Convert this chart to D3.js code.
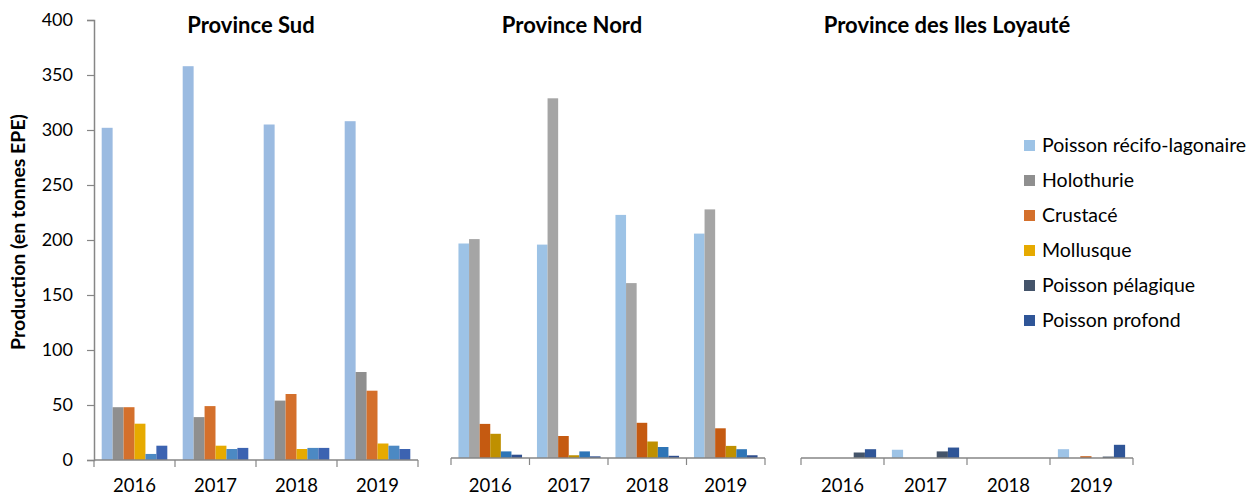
<!DOCTYPE html>
<html>
<head>
<meta charset="utf-8">
<script src="https://cdnjs.cloudflare.com/ajax/libs/d3/7.8.5/d3.min.js"></script>
<style>
  body { margin: 0; background: #fff; }
  svg { display: block; font-family: Lato, "Open Sans", sans-serif; }
</style>
</head>
<body>
<div id="chart"></div>
<script>
// données
var years = ["2016", "2017", "2018", "2019"];
var series = ["Poisson récifo-lagonaire", "Holothurie", "Crustacé", "Mollusque", "Poisson pélagique", "Poisson profond"];
var yTicks = [0, 50, 100, 150, 200, 250, 300, 350, 400];

// valeurs par année, dans l'ordre des séries
var sudValues = [
    [302, 48, 48, 33, 5.5, 13],
    [358, 39, 49, 13, 10, 11],
    [305, 54, 60, 10, 11, 11],
    [308, 80, 63, 15, 13, 10]
];
var nordValues = [
    [195, 199, 31, 22, 6, 3],
    [194, 327, 20, 2.5, 6, 1.5],
    [221, 159, 32, 15, 10, 2],
    [204, 226, 27, 11, 8, 2.5]
];
var ilesValues = [
    [0, 0, 0, 0, 5, 8],
    [7.5, 0, 0, 0, 6, 9.5],
    [0, 0, 0, 0, 0, 0],
    [8, 0, 1.6, 0, 1.3, 12]
];

var legendColors = ["#9dc3e6", "#8f8f8f", "#d4702c", "#e6aa00", "#44546a", "#2f5597"];

var panels = [
    { title: "Province Sud", titleX: 251, values: sudValues, x0: 94, x1: 418, base: 460,
      colors: ["#9bbbe1", "#8f8f8f", "#d4702c", "#e6aa00", "#4c89c3", "#3c63b1"] },
    { title: "Province Nord", titleX: 572, values: nordValues, x0: 451, x1: 765, base: 458,
      colors: ["#9dc3e6", "#a5a5a5", "#c55a11", "#bf9000", "#2e75b6", "#2f4f8f"] },
    { title: "Province des Iles Loyauté", titleX: 947, values: ilesValues, x0: 801, x1: 1133, base: 458,
      colors: ["#9dc3e6", "#bfbfbf", "#c55a11", "#bf9000", "#44546a", "#2f5597"] }
];

var width = 1251, height = 493;
var axisColor = "#868686";

var svg = d3.select("#chart").append("svg")
    .attr("width", width)
    .attr("height", height);

// axe Y (seulement pour le premier panneau)
var y0 = d3.scaleLinear().domain([0, 400]).range([460, 20]);
var yAxis = svg.append("g")
    .attr("transform", "translate(94,0)")
    .call(d3.axisLeft(y0).tickValues(yTicks).tickSize(7).tickPadding(14));
yAxis.select(".domain").attr("stroke", axisColor).attr("stroke-width", 1.5);
yAxis.selectAll(".tick line").attr("stroke", axisColor).attr("stroke-width", 1.2);
yAxis.selectAll(".tick text")
    .attr("fill", "#000")
    .style("font-size", "18px")
    .style("font-family", "Lato, sans-serif");

svg.append("text")
    .attr("transform", "translate(25,232) rotate(-90)")
    .attr("text-anchor", "middle")
    .style("font-size", "19.5px")
    .style("font-weight", "bold")
    .text("Production (en tonnes EPE)");

panels.forEach(function (p) {
    var y = d3.scaleLinear().domain([0, 400]).range([p.base, p.base - 440]);
    var x = d3.scaleBand().domain(years).range([p.x0, p.x1]);
    var groupW = x.bandwidth() * 0.81;
    var xs = d3.scaleBand().domain(series).range([0, groupW]);
    var off = (x.bandwidth() - groupW) / 2;

    var g = svg.append("g");

    var groups = g.selectAll(".year")
        .data(p.values)
        .enter().append("g")
        .attr("transform", function (d, i) { return "translate(" + (x(years[i]) + off) + ",0)"; });

    groups.selectAll("rect")
        .data(function (d) { return d; })
        .enter().append("rect")
        .attr("x", function (d, i) { return xs(series[i]); })
        .attr("y", function (d) { return y(d); })
        .attr("width", xs.bandwidth())
        .attr("height", function (d) { return p.base - y(d); })
        .attr("fill", function (d, i) { return p.colors[i]; });

    // axe X
    var xAxis = g.append("g")
        .attr("transform", "translate(0," + p.base + ")");
    xAxis.append("line")
        .attr("x1", p.x0).attr("x2", p.x1)
        .attr("stroke", axisColor).attr("stroke-width", 1.5);
    xAxis.selectAll(".tk")
        .data(years.concat(["end"]))
        .enter().append("line")
        .attr("x1", function (d) { return d === "end" ? p.x1 : x(d); })
        .attr("x2", function (d) { return d === "end" ? p.x1 : x(d); })
        .attr("y1", 0).attr("y2", 7)
        .attr("stroke", axisColor).attr("stroke-width", 1.2);
    xAxis.selectAll(".lbl")
        .data(years)
        .enter().append("text")
        .attr("x", function (d) { return x(d) + x.bandwidth() / 2; })
        .attr("y", 492 - p.base)
        .attr("text-anchor", "middle")
        .style("font-size", "18.5px")
        .text(function (d) { return d; });

    g.append("text")
        .attr("x", p.titleX)
        .attr("y", 33)
        .attr("text-anchor", "middle")
        .style("font-size", "22px")
        .style("font-weight", "bold")
        .text(p.title);
});

// légende
var legend = svg.append("g").attr("transform", "translate(1024,145)");
var li = legend.selectAll("g")
    .data(series)
    .enter().append("g")
    .attr("transform", function (d, i) { return "translate(0," + i * 35 + ")"; });
li.append("rect")
    .attr("x", 0).attr("y", -5)
    .attr("width", 11).attr("height", 11)
    .attr("fill", function (d, i) { return legendColors[i]; });
li.append("text")
    .attr("x", 18).attr("y", 7)
    .style("font-size", "19.5px")
    .text(function (d) { return d; });
</script>
</body>
</html>
